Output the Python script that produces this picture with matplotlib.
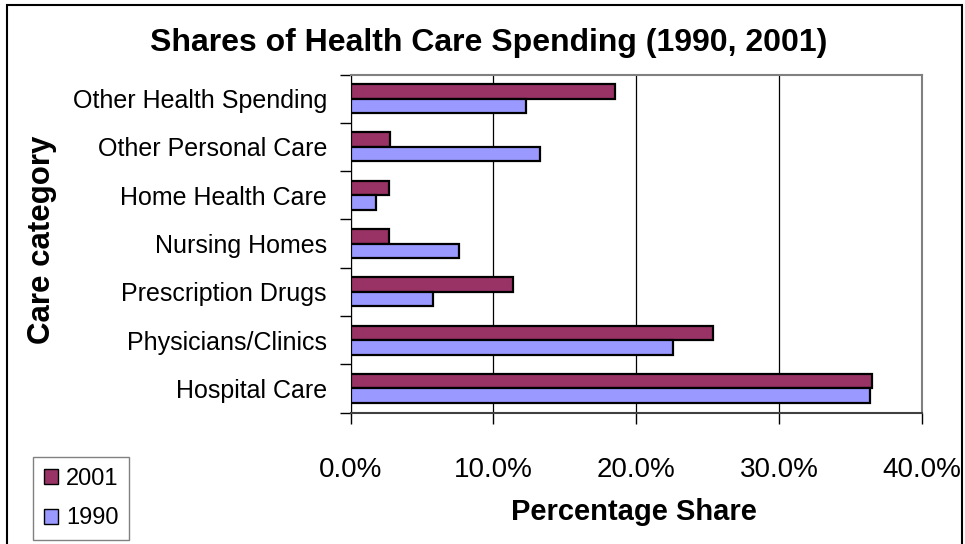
import matplotlib
matplotlib.use("Agg")
import matplotlib.pyplot as plt
from matplotlib.patches import Rectangle
from matplotlib.ticker import FixedLocator, FuncFormatter
import numpy as np

plt.rcParams["font.family"] = ["Liberation Sans", "DejaVu Sans"]

categories = ["Hospital Care", "Physicians/Clinics", "Prescription Drugs",
              "Nursing Homes", "Home Health Care", "Other Personal Care",
              "Other Health Spending"]
share_2001 = [36.5, 25.4, 11.4, 2.7, 2.7, 2.8, 18.5]
share_1990 = [36.4, 22.6, 5.8, 7.6, 1.8, 13.3, 12.3]
x_ticks = [0, 10, 20, 30, 40]

color_2001 = "#993366"
color_1990 = "#9999FF"

W, H = 965, 544
fig = plt.figure(figsize=(W / 100, H / 100), dpi=100)
fig.patch.set_facecolor("white")

# plot area in pixel terms
left, right, top, bottom = 350.5, 921.7, 74.5, 412.5
ax = fig.add_axes([left / W, 1 - bottom / H, (right - left) / W, (bottom - top) / H])

y = np.arange(len(categories))
bh = 0.3
b01 = ax.barh(y + bh / 2, share_2001, height=bh, color=color_2001,
              edgecolor="black", linewidth=1.6, label="2001", zorder=3)
b90 = ax.barh(y - bh / 2, share_1990, height=bh, color=color_1990,
              edgecolor="black", linewidth=1.6, label="1990", zorder=3)

ax.set_xlim(0, 40)
ax.set_ylim(-0.5, len(categories) - 0.5)

# x axis
ax.set_xticks(x_ticks)
ax.xaxis.set_major_formatter(FuncFormatter(lambda v, p: f"{v:.1f}%"))
ax.tick_params(axis="x", direction="out", length=8, width=1, pad=24,
               labelsize=20, color="black")
ax.grid(axis="x", color="black", linewidth=0.9, zorder=1)

# y axis: ticks on category boundaries, labels on category centres
ax.yaxis.set_major_locator(FixedLocator(np.arange(-0.5, len(categories), 1.0)))
ax.yaxis.set_major_formatter(FuncFormatter(lambda v, p: ""))
ax.yaxis.set_minor_locator(FixedLocator(y))
ax.set_yticklabels(categories, minor=True)
ax.tick_params(axis="y", which="major", direction="out", length=8, width=1, color="black")
ax.tick_params(axis="y", which="minor", length=0, pad=17, labelsize=18)

for side in ("top", "right"):
    ax.spines[side].set_color("#808080")
    ax.spines[side].set_linewidth(1.5)
ax.spines["left"].set_color("black")
ax.spines["bottom"].set_color("#404040")
ax.spines["bottom"].set_linewidth(1.5)

# titles
fig.text(489 / W, 1 - 43 / H, "Shares of Health Care Spending (1990, 2001)",
         ha="center", va="center", fontsize=23, fontweight="bold")
fig.text(634 / W, 1 - 512 / H, "Percentage Share",
         ha="center", va="center", fontsize=21, fontweight="bold")
fig.text(42 / W, 1 - 240 / H, "Care category", rotation=90,
         ha="center", va="center", fontsize=22.5, fontweight="bold")

# legend
leg = fig.legend(handles=[b01, b90], labels=["2001", "1990"],
                 loc="lower left", bbox_to_anchor=(33 / W, 1 - 540 / H),
                 bbox_transform=fig.transFigure, borderaxespad=0,
                 fontsize=17, handlelength=0.6, handleheight=0.6,
                 handletextpad=0.35, labelspacing=0.75, borderpad=0.45,
                 fancybox=False, framealpha=1, edgecolor="#808080")
leg.get_frame().set_linewidth(1)
for h in leg.legend_handles:
    h.set_linewidth(1)

# outer chart border
fig.patches.append(Rectangle((7 / W, -0.05), (962 - 7) / W, 1.05 - 5 / H,
                             transform=fig.transFigure, fill=False,
                             edgecolor="black", linewidth=1.5))

fig.savefig("out.png", dpi=100)
